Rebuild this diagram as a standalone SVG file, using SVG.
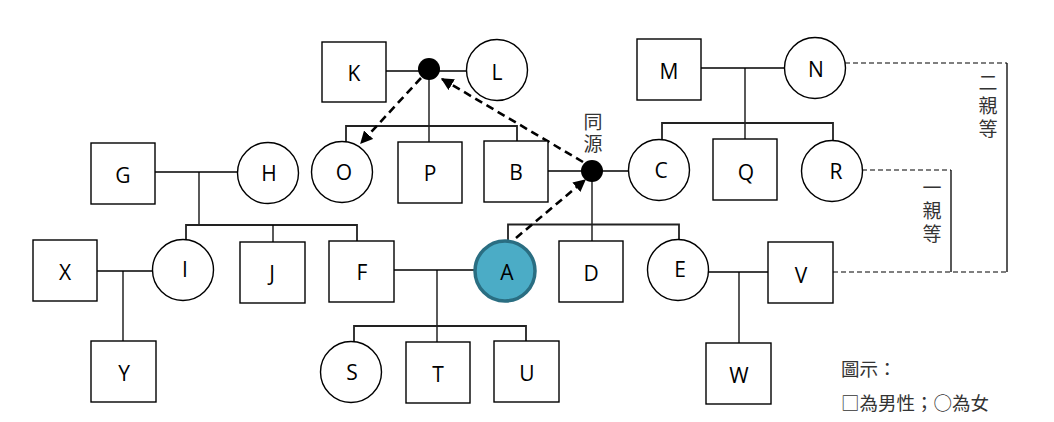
<svg xmlns="http://www.w3.org/2000/svg" width="1054" height="422" viewBox="0 0 1054 422">
<defs>
<marker id="ah" viewBox="0 0 10 10" refX="9" refY="5" markerWidth="4.8" markerHeight="4.8" orient="auto" markerUnits="strokeWidth">
<path d="M0,0 L10,5 L0,10 z" fill="#000"/>
</marker>
<style>
.m{fill:#fff;stroke:#000;stroke-width:1.4}
.f{fill:#fff;stroke:#000;stroke-width:1.4}
.lb{font-family:"Open Sans","Noto Sans",sans-serif;font-size:21px;fill:#000;text-anchor:middle;dominant-baseline:central}
.ln{stroke:#000;stroke-width:1.3;fill:none}
.bar{stroke:#222;stroke-width:1.8;fill:none}
.dl{stroke:#000;stroke-width:1.2;fill:none;stroke-dasharray:5 3}
.da{stroke:#000;stroke-width:2.6;fill:none;stroke-dasharray:8 5}
.vt{font-family:"Noto Sans CJK TC","Noto Sans CJK SC",sans-serif;font-size:19px;fill:#333;writing-mode:vertical-rl;text-anchor:start}
.lg{font-family:"Noto Sans CJK TC","Noto Sans CJK SC",sans-serif;font-size:18.5px;fill:#333}
</style>
</defs>
<rect width="1054" height="422" fill="#fff"/>
<g id="connectors">
<line class="ln" x1="386" y1="71" x2="466" y2="71"/>
<line class="ln" x1="429" y1="70" x2="429" y2="142"/>
<polyline class="bar" points="346,142 346,126 517,126 517,141"/>
<line class="ln" x1="548" y1="171" x2="628" y2="171"/>
<line class="ln" x1="592" y1="171" x2="592" y2="241"/>
<polyline class="bar" points="508,240 508,224.5 679,224.5 679,239"/>
<line class="ln" x1="701" y1="68" x2="784" y2="68"/>
<line class="ln" x1="745" y1="68" x2="745" y2="139"/>
<polyline class="bar" points="662,139 662,123 833,123 833,141"/>
<line class="ln" x1="155" y1="172" x2="237" y2="172"/>
<line class="ln" x1="199" y1="172" x2="199" y2="225"/>
<polyline class="bar" points="186,240 186,225 357,225 357,241"/>
<line class="ln" x1="273" y1="225" x2="273" y2="242"/>
<line class="ln" x1="97" y1="271" x2="153" y2="271"/>
<line class="ln" x1="123" y1="271" x2="123" y2="341"/>
<line class="ln" x1="394" y1="270" x2="474" y2="270"/>
<line class="ln" x1="437" y1="270" x2="437" y2="342"/>
<polyline class="bar" points="354,341 354,326 526,326 526,341"/>
<line class="ln" x1="708" y1="272" x2="768" y2="272"/>
<line class="ln" x1="739" y1="272" x2="739" y2="343"/>
<line class="dl" x1="845" y1="63" x2="1007" y2="63"/>
<line class="ln" x1="1007" y1="63" x2="1007" y2="272"/>
<line class="dl" x1="862" y1="170" x2="951" y2="170"/>
<line class="ln" x1="951" y1="170" x2="951" y2="272"/>
<line class="dl" x1="833" y1="272" x2="1007" y2="272"/>
<line class="da" x1="583" y1="162" x2="442" y2="79" marker-end="url(#ah)"/>
<line class="da" x1="421" y1="78" x2="361" y2="143" marker-end="url(#ah)"/>
<line class="da" x1="516" y1="238" x2="585" y2="180" marker-end="url(#ah)"/>
</g>
<g id="dotKL"><circle cx="429" cy="69" r="11" fill="#000"/></g>
<g id="dotOrigin"><circle cx="592" cy="171" r="11" fill="#000"/>
<text class="vt" x="593" y="112" letter-spacing="3">同源</text></g>
<g id="K"><rect class="m" x="322" y="42" width="64" height="60"/><text class="lb" x="354" y="73">K</text></g>
<g id="L"><circle class="f" cx="497" cy="70" r="30.5"/><text class="lb" x="497" y="72">L</text></g>
<g id="M"><rect class="m" x="637" y="39" width="64" height="61"/><text class="lb" x="669" y="71">M</text></g>
<g id="N"><circle class="f" cx="815" cy="68" r="30.5"/><text class="lb" x="816" y="69">N</text></g>
<g id="G"><rect class="m" x="91" y="143" width="64" height="61"/><text class="lb" x="123" y="175">G</text></g>
<g id="H"><circle class="f" cx="268" cy="173" r="30.5"/><text class="lb" x="269" y="173">H</text></g>
<g id="O"><circle class="f" cx="342" cy="172" r="30.5"/><text class="lb" x="344" y="172">O</text></g>
<g id="P"><rect class="m" x="398" y="142" width="64" height="61"/><text class="lb" x="430" y="173">P</text></g>
<g id="B"><rect class="m" x="484" y="141" width="64" height="61"/><text class="lb" x="516" y="172">B</text></g>
<g id="C"><circle class="f" cx="659" cy="170" r="30.5"/><text class="lb" x="661" y="170">C</text></g>
<g id="Q"><rect class="m" x="713" y="139" width="64" height="61"/><text class="lb" x="746" y="172">Q</text></g>
<g id="R"><circle class="f" cx="832" cy="171" r="30.5"/><text class="lb" x="836" y="171">R</text></g>
<g id="X"><rect class="m" x="33" y="240" width="64" height="61"/><text class="lb" x="65" y="272">X</text></g>
<g id="I"><circle class="f" cx="183" cy="270" r="30.5"/><text class="lb" x="185" y="269">I</text></g>
<g id="J"><rect class="m" x="240" y="242" width="65" height="61"/><text class="lb" x="272" y="273">J</text></g>
<g id="F"><rect class="m" x="329" y="241" width="65" height="61"/><text class="lb" x="362" y="272">F</text></g>
<g id="A"><circle cx="505" cy="271" r="30" fill="#4BACC6" stroke="#2A6E82" stroke-width="3.5"/><text class="lb" x="507" y="272">A</text></g>
<g id="D"><rect class="m" x="559" y="241" width="64" height="61"/><text class="lb" x="591" y="273">D</text></g>
<g id="E"><circle class="f" cx="678" cy="270" r="30.5"/><text class="lb" x="680" y="269">E</text></g>
<g id="V"><rect class="m" x="768" y="242" width="65" height="61"/><text class="lb" x="801" y="275">V</text></g>
<g id="Y"><rect class="m" x="91" y="341" width="65" height="61"/><text class="lb" x="124" y="373">Y</text></g>
<g id="S"><circle class="f" cx="351" cy="372" r="30.5"/><text class="lb" x="352" y="372">S</text></g>
<g id="T"><rect class="m" x="406" y="342" width="64" height="61"/><text class="lb" x="438" y="374">T</text></g>
<g id="U"><rect class="m" x="494" y="341" width="65" height="61"/><text class="lb" x="527" y="373">U</text></g>
<g id="W"><rect class="m" x="706" y="343" width="65" height="61"/><text class="lb" x="739" y="375">W</text></g>
<g id="labels">
<text class="vt" x="988" y="73" letter-spacing="4">二親等</text>
<text class="vt" x="932" y="178" letter-spacing="4">一親等</text>
<text class="lg" x="841" y="376">圖示：</text>
<text class="lg" x="841" y="410">□為男性；○為女</text>
</g>
</svg>
